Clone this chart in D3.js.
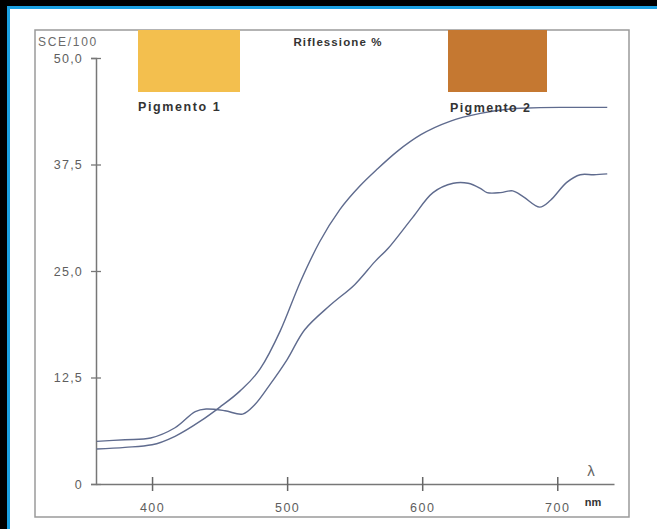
<!DOCTYPE html>
<html>
<head>
<meta charset="utf-8">
<script src="https://cdn.jsdelivr.net/npm/d3@7"></script>
<style>
  body { margin: 0; background: #fff; }
  svg { display: block; font-family: Arial, "Liberation Sans", sans-serif; }
</style>
</head>
<body>
<div id="chart"></div>
<script>
const width = 657;
const height = 529;

// Pigmento 1 (curva regolare)
const nm1 = [359, 380, 400, 417, 436, 450, 465, 480, 495, 510, 524, 539, 554, 567, 582, 599, 621, 643, 673, 702, 737];
const refl1 = [4.1, 4.3, 4.6, 5.6, 7.4, 9.0, 10.9, 13.5, 18.0, 23.8, 28.4, 32.2, 35.0, 37.0, 39.1, 41.0, 42.6, 43.5, 44.1, 44.2, 44.2];

// Pigmento 2 (curva ondulata)
const nm2 = [359, 380, 399, 417, 432, 440, 454, 467, 476, 487, 500, 513, 532, 550, 565, 575, 593, 608, 623, 634, 643, 648, 658, 667, 675, 687, 695, 707, 717, 727, 737];
const refl2 = [5.0, 5.2, 5.4, 6.6, 8.5, 8.8, 8.6, 8.2, 9.3, 11.6, 14.6, 18.1, 21.0, 23.4, 26.1, 27.7, 31.3, 34.2, 35.3, 35.3, 34.7, 34.2, 34.2, 34.4, 33.7, 32.5, 33.3, 35.4, 36.3, 36.3, 36.4];

const yTicks = [0, 12.5, 25, 37.5, 50];
const xTicks = [400, 500, 600, 700];

const swatches = [
    {name: "Pigmento 1", color: "#f3bf4e"},
    {name: "Pigmento 2", color: "#c57831"}
];

let svg = d3.select("#chart").append("svg")
    .attr("width", width)
    .attr("height", height);

// cornice nera/blu
svg.append("rect").attr("x", 0).attr("y", 0).attr("width", width).attr("height", 6).attr("fill", "#000");
svg.append("rect").attr("x", 0).attr("y", 0).attr("width", 7).attr("height", height).attr("fill", "#000");
svg.append("rect").attr("x", 7).attr("y", 6).attr("width", width - 7).attr("height", 3).attr("fill", "#1ba1e2");
svg.append("rect").attr("x", 7).attr("y", 6).attr("width", 3).attr("height", height - 6).attr("fill", "#1ba1e2");

// riquadro grigio
svg.append("rect")
    .attr("x", 35).attr("y", 30)
    .attr("width", 594).attr("height", 487)
    .attr("fill", "none")
    .attr("stroke", "#9a9a9a")
    .attr("stroke-width", 1.5);

let xScale = d3.scaleLinear()
    .domain([358.5, 742])
    .range([96, 614]);

let yScale = d3.scaleLinear()
    .domain([0, 50])
    .range([484, 58]);

let g = svg.append("g");

// asse y
let yAxis = g.append("g")
    .attr("transform", "translate(96,0)")
    .call(d3.axisLeft(yScale)
        .tickValues(yTicks)
        .tickSize(5)
        .tickPadding(8)
        .tickFormat(d => d === 0 ? "0" : d3.format(".1f")(d).replace(".", ",")));
yAxis.select(".domain").attr("stroke", "#777").attr("stroke-width", 1.5);
yAxis.selectAll(".tick line").attr("stroke", "#777").attr("stroke-width", 1.3).attr("x2", 5).attr("x1", -5);
yAxis.selectAll(".tick text")
    .attr("fill", "#5e5e5e")
    .style("font-size", "12.5px")
    .style("letter-spacing", "1.2px");

// asse x
let xAxis = g.append("g")
    .attr("transform", "translate(0,484)")
    .call(d3.axisBottom(xScale)
        .tickValues(xTicks)
        .tickSize(7)
        .tickPadding(12)
        .tickSizeOuter(0));
xAxis.select(".domain").attr("stroke", "#777").attr("stroke-width", 1.5);
xAxis.selectAll(".tick line").attr("stroke", "#666").attr("stroke-width", 1.5).attr("y1", -7);
xAxis.selectAll(".tick text")
    .attr("fill", "#5e5e5e")
    .style("font-size", "12.5px")
    .style("letter-spacing", "1.5px");

// campioni di colore
let swatchX = [138, 448];
swatches.forEach((s, i) => {
    svg.append("rect")
        .attr("x", swatchX[i]).attr("y", 30)
        .attr("width", i === 0 ? 102 : 99).attr("height", 62)
        .attr("fill", s.color);
});

// curve
let smoothLine = d3.line()
    .x(d => xScale(d[0]))
    .y(d => yScale(d[1]))
    .curve(d3.curveMonotoneX);

let wavyLine = d3.line()
    .x(d => xScale(d[0]))
    .y(d => yScale(d[1]))
    .curve(d3.curveCatmullRom.alpha(0.5));

svg.append("path")
    .datum(nm1.map((v, i) => [v, refl1[i]]))
    .attr("d", smoothLine)
    .attr("fill", "none")
    .attr("stroke", "#5f6b8e")
    .attr("stroke-width", 1.4);

svg.append("path")
    .datum(nm2.map((v, i) => [v, refl2[i]]))
    .attr("d", wavyLine)
    .attr("fill", "none")
    .attr("stroke", "#5f6b8e")
    .attr("stroke-width", 1.4);

// testi
svg.append("text")
    .attr("x", 38).attr("y", 46)
    .attr("fill", "#6a6a6a")
    .style("font-size", "12px")
    .style("letter-spacing", "1.7px")
    .text("SCE/100");

svg.append("text")
    .attr("x", 338).attr("y", 46)
    .attr("text-anchor", "middle")
    .attr("fill", "#333")
    .style("font-size", "11.5px")
    .style("font-weight", "bold")
    .style("letter-spacing", "1.1px")
    .text("Riflessione %");

svg.append("text")
    .attr("x", 138).attr("y", 111)
    .attr("fill", "#333")
    .style("font-size", "12.5px")
    .style("font-weight", "bold")
    .style("letter-spacing", "1.6px")
    .text(swatches[0].name);

svg.append("text")
    .attr("x", 450).attr("y", 112)
    .attr("fill", "#333")
    .style("font-size", "12.5px")
    .style("font-weight", "bold")
    .style("letter-spacing", "1.4px")
    .text(swatches[1].name);

svg.append("text")
    .attr("x", 591).attr("y", 476)
    .attr("text-anchor", "middle")
    .attr("fill", "#666")
    .style("font-size", "15px")
    .text("λ");

svg.append("text")
    .attr("x", 593).attr("y", 506)
    .attr("text-anchor", "middle")
    .attr("fill", "#333")
    .style("font-size", "11px")
    .style("font-weight", "bold")
    .text("nm");
</script>
</body>
</html>
